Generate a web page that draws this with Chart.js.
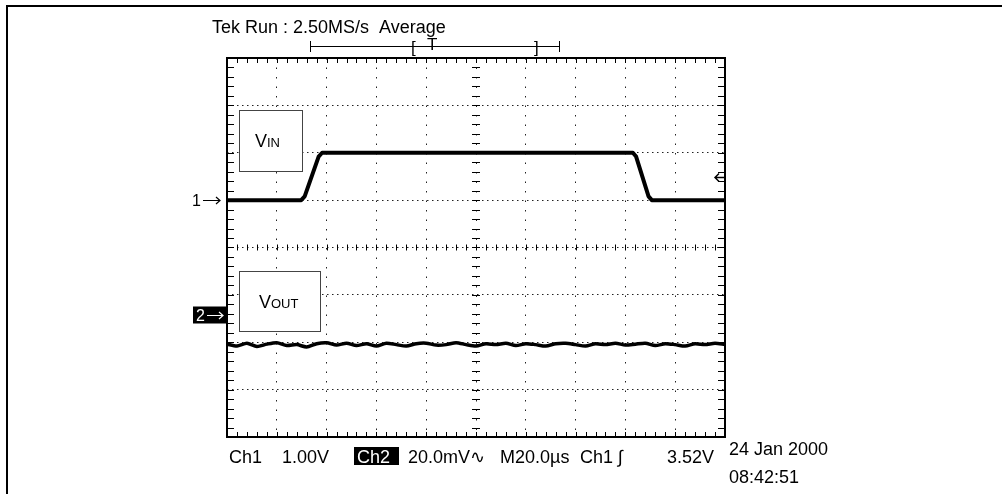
<!DOCTYPE html>
<html><head><meta charset="utf-8">
<script src="https://cdn.jsdelivr.net/npm/chart.js@4/dist/chart.umd.min.js"></script>
<style>
html,body{margin:0;padding:0;background:#fff;overflow:hidden}
canvas{position:absolute;left:0;top:0}
</style></head><body>
<canvas id="c" width="1002" height="494"></canvas>
<script>
// ---- data (x in microseconds, y in screen divisions from centre) ----
const vinTime = [0, 29.8, 31.2, 36.8, 38.2, 163.0, 164.3, 169.3, 170.6, 200];
const vinDiv  = [1, 1,    1.08, 1.92, 2,    2,     1.92,  1.08,  1,     1];
const voutTime = [0,4,8,12,16,20,24,28,32,36,40,44,48,52,56,60,64,68,72,76,80,84,88,92,96,100,
  104,108,112,116,120,124,128,132,136,140,144,148,152,156,160,164,168,172,176,180,184,188,192,196,200];
const voutDiv = [-2.04,-2.08,-2.02,-2.09,-2.04,-2.01,-2.07,-2.05,-2.10,-2.03,-2.01,-2.06,-2.02,-2.07,-2.03,-2.08,-2.02,-2.05,-2.08,-2.03,
  -2.02,-2.06,-2.05,-2.01,-2.05,-2.08,-2.03,-2.05,-2.02,-2.07,-2.03,-2.05,-2.08,-2.03,-2.02,-2.05,-2.08,-2.03,-2.05,-2.02,
  -2.06,-2.04,-2.02,-2.07,-2.03,-2.05,-2.08,-2.03,-2.05,-2.02,-2.05];
const xTicks = [0,20,40,60,80,100,120,140,160,180,200];   // 20.0 µs / div
const yTicks = [-4,-3,-2,-1,0,1,2,3,4];                   // divisions
const ch1Ground = 1.0, ch2Ground = -1.42, trigLevel = 1.49;

const titleText = 'Tek Run : 2.50MS/s  Average';
const bottomTexts = [['Ch1',229],['1.00V',282],['20.0mV\u223F',408],['M20.0\u00B5s',500],['Ch1 \u222B',580],['3.52V',667]];
const dateText = '24 Jan 2000', timeText = '08:42:51';

const FONT = '"Liberation Sans", Arial, sans-serif';

function arrow(ctx, x0, x1, yy) {
  ctx.beginPath();
  ctx.moveTo(x0, yy); ctx.lineTo(x1, yy);
  ctx.moveTo(x1 - 4, yy - 3.5); ctx.lineTo(x1, yy); ctx.lineTo(x1 - 4, yy + 3.5);
  ctx.lineWidth = 1.2; ctx.stroke();
}

const scopePlugin = {
  id: 'scope',
  beforeDatasetsDraw(chart) {
    const {ctx, chartArea: a, scales: {x, y}} = chart;
    ctx.save();
    ctx.strokeStyle = '#000';
    ctx.lineWidth = 1;
    const xc = x.getPixelForValue(100), yc = y.getPixelForValue(0);
    ctx.beginPath();
    for (let t = 0; t <= 200.001; t += 4) {
      const px = Math.round(x.getPixelForValue(t)) + 0.5;
      ctx.moveTo(px, a.top); ctx.lineTo(px, a.top + 5);
      ctx.moveTo(px, a.bottom); ctx.lineTo(px, a.bottom - 5);
      ctx.moveTo(px, yc - 3); ctx.lineTo(px, yc + 3);
    }
    for (let v = -4; v <= 4.001; v += 0.2) {
      const py = Math.round(y.getPixelForValue(v)) + 0.5;
      ctx.moveTo(a.left, py); ctx.lineTo(a.left + 7, py);
      ctx.moveTo(a.right, py); ctx.lineTo(a.right - 7, py);
      ctx.moveTo(xc - 4, py); ctx.lineTo(xc + 4, py);
    }
    ctx.stroke();
    // plot frame
    ctx.lineWidth = 2;
    ctx.strokeRect(a.left, a.top, a.right - a.left, a.bottom - a.top);
    // label boxes
    ctx.lineWidth = 1;
    ctx.strokeStyle = '#444';
    ctx.fillStyle = '#fff';
    ctx.fillRect(239, 110, 63, 61); ctx.strokeRect(239.5, 110.5, 63, 61);
    ctx.fillRect(239, 271, 81, 60); ctx.strokeRect(239.5, 271.5, 81, 60);
    ctx.fillStyle = '#000';
    ctx.textBaseline = 'alphabetic';
    ctx.font = '18px ' + FONT;
    ctx.fillText('V', 255, 147);
    let w = ctx.measureText('V').width;
    ctx.font = '13px ' + FONT;
    ctx.fillText('IN', 255 + w, 147);
    ctx.font = '18px ' + FONT;
    ctx.fillText('V', 259, 308);
    w = ctx.measureText('V').width;
    ctx.font = '13px ' + FONT;
    ctx.fillText('OUT', 259 + w, 308);
    ctx.restore();
  },
  afterDraw(chart) {
    const {ctx, chartArea: a, scales: {x, y}} = chart;
    ctx.save();
    ctx.fillStyle = '#000'; ctx.strokeStyle = '#000';
    // outer frame (top and left)
    ctx.fillRect(6, 5, 996, 2);
    ctx.fillRect(6, 5, 2, 489);
    ctx.font = '18px ' + FONT;
    ctx.textBaseline = 'alphabetic';
    ctx.fillText(titleText, 212, 33);
    // record bracket
    ctx.lineWidth = 1;
    const bx0 = Math.round(x.getPixelForValue(33.4)) + 0.5, bx1 = Math.round(x.getPixelForValue(133.4)) + 0.5;
    ctx.beginPath();
    ctx.moveTo(bx0, 46.5); ctx.lineTo(bx1, 46.5);
    ctx.moveTo(bx0, 41); ctx.lineTo(bx0, 52);
    ctx.moveTo(bx1, 41); ctx.lineTo(bx1, 52);
    ctx.stroke();
    ctx.font = '17px ' + FONT;
    ctx.fillText('[', 411, 53);
    ctx.fillText('T', 427, 50);
    ctx.fillText(']', 534, 53);
    // channel ground markers
    ctx.font = '16px ' + FONT;
    ctx.textBaseline = 'middle';
    const g1 = Math.round(y.getPixelForValue(ch1Ground)) + 0.5;
    ctx.fillText('1', 192, g1 + 1);
    arrow(ctx, 203, 220, g1);
    const g2 = Math.round(y.getPixelForValue(ch2Ground)) + 0.5;
    ctx.fillRect(193, g2 - 9, 34, 17);
    ctx.fillStyle = '#fff'; ctx.strokeStyle = '#fff';
    ctx.fillText('2', 196, g2 + 1);
    arrow(ctx, 207, 223, g2);
    ctx.fillStyle = '#000'; ctx.strokeStyle = '#000';
    // trigger level arrow
    const tl = Math.round(y.getPixelForValue(trigLevel)) + 0.5;
    ctx.beginPath();
    ctx.moveTo(719, tl - 4); ctx.lineTo(715, tl); ctx.lineTo(719, tl + 4);
    ctx.moveTo(715, tl); ctx.lineTo(724, tl);
    ctx.lineWidth = 1.5; ctx.stroke();
    // bottom readout
    ctx.textBaseline = 'alphabetic';
    ctx.font = '18px ' + FONT;
    for (const [t, px] of bottomTexts) ctx.fillText(t, px, 463);
    ctx.fillRect(354, 447, 45, 18);
    ctx.fillStyle = '#fff';
    ctx.fillText('Ch2', 357, 463);
    ctx.fillStyle = '#000';
    ctx.fillText(dateText, 729, 455);
    ctx.fillText(timeText, 729, 483);
    ctx.restore();
  }
};

new Chart(document.getElementById('c'), {
  type: 'line',
  data: {
    datasets: [
      { label: 'VIN', data: vinTime.map((t, i) => ({x: t, y: vinDiv[i]})),
        borderColor: '#000', borderWidth: 4, pointRadius: 0, tension: 0, borderJoinStyle: 'round' },
      { label: 'VOUT', data: voutTime.map((t, i) => ({x: t, y: voutDiv[i]})),
        borderColor: '#000', borderWidth: 3.5, pointRadius: 0, tension: 0.25, borderJoinStyle: 'round' }
    ]
  },
  options: {
    responsive: false, animation: false, devicePixelRatio: 1,
    layout: { padding: { left: 227, right: 277, top: 58, bottom: 57 } },
    plugins: { legend: { display: false }, tooltip: { enabled: false } },
    scales: {
      x: { type: 'linear', min: 0, max: 200,
           afterBuildTicks: s => { s.ticks = xTicks.map(v => ({value: v})); },
           ticks: { display: false },
           grid: { color: '#222', lineWidth: 1, drawTicks: false },
           border: { display: false, dash: [1.5, 8] } },
      y: { type: 'linear', min: -4, max: 4,
           afterBuildTicks: s => { s.ticks = yTicks.map(v => ({value: v})); },
           ticks: { display: false },
           grid: { color: '#222', lineWidth: 1, drawTicks: false },
           border: { display: false, dash: [1.5, 3.5] } }
    }
  },
  plugins: [scopePlugin]
});
</script>
</body></html>
